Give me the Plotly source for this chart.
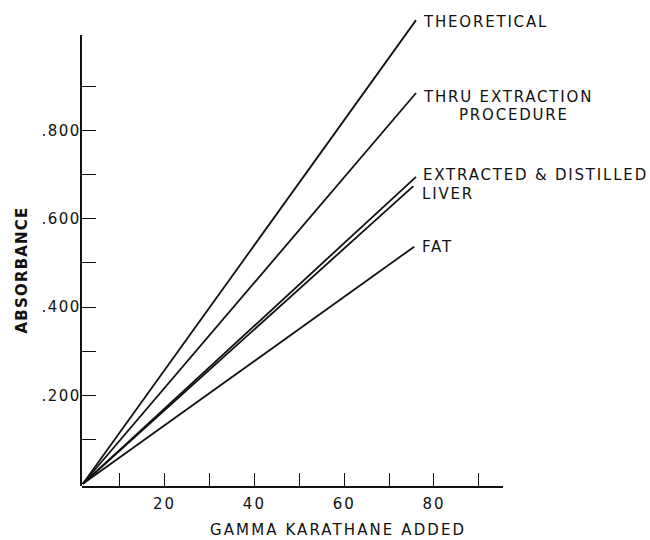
import plotly.graph_objects as go

# ---- data ----
series_names = ["THEORETICAL", "THRU EXTRACTION", "EXTRACTED & DISTILLED", "LIVER", "FAT"]
series_sub = ["", "PROCEDURE", "", "", ""]
x_start = [1.8, 1.8, 1.8, 1.8, 1.8]
y_start = [0.0, 0.0, 0.0, 0.0, 0.0]
x_end = [76.0, 76.0, 76.0, 75.4, 75.6]
y_end = [1.050, 0.885, 0.695, 0.674, 0.537]
label_yshift = [-1, -4, 2, -7, 0]
label_xshift = [5, 5, 5, 7, 6]

x_tickvals = [10, 20, 30, 40, 50, 60, 70, 80, 90]
x_ticktext = ["", "20", "", "40", "", "60", "", "80", ""]
y_tickvals = [0.1, 0.2, 0.3, 0.4, 0.5, 0.6, 0.7, 0.8, 0.9]
y_ticktext = ["", ".200", "", ".400", "", ".600", "", ".800", ""]

x_title = "GAMMA KARATHANE ADDED"
y_title = "ABSORBANCE"

FONT = "DejaVu Sans"
INK = "#111111"


def sp(text, spacing):
    return f"<span style='letter-spacing:{spacing}px'>{text}</span>" if text else ""


fig = go.Figure()

for i, name in enumerate(series_names):
    fig.add_trace(go.Scatter(
        x=[x_start[i], x_end[i]], y=[y_start[i], y_end[i]],
        mode="lines", line=dict(color=INK, width=1.8),
        name=name, showlegend=False, hoverinfo="skip",
        xaxis="x", yaxis="y",
    ))
    fig.add_annotation(
        x=x_end[i], y=y_end[i], xref="x", yref="y",
        text=sp(name, 1.8), showarrow=False, height=13,
        xanchor="left", yanchor="middle",
        xshift=label_xshift[i], yshift=label_yshift[i],
        font=dict(family=FONT, size=15, color=INK),
    )
    if series_sub[i]:
        fig.add_annotation(
            x=x_end[i], y=y_end[i], xref="x", yref="y",
            text=sp(series_sub[i], 1.8), showarrow=False, height=13,
            xanchor="left", yanchor="middle",
            xshift=label_xshift[i] + 36, yshift=label_yshift[i] - 18,
            font=dict(family=FONT, size=15, color=INK),
        )

# empty trace so the visible y axis (y2) gets a subplot
fig.add_trace(go.Scatter(x=[None], y=[None], xaxis="x", yaxis="y2",
                         showlegend=False, hoverinfo="skip"))

fig.update_layout(
    width=650, height=540,
    margin=dict(l=82, r=147, t=10, b=54),
    paper_bgcolor="white", plot_bgcolor="rgba(0,0,0,0)",
    font=dict(family=FONT, size=15, color=INK),
    xaxis=dict(
        range=[1.6, 95.37], showgrid=False, zeroline=False,
        showline=True, linewidth=2, linecolor=INK,
        ticks="inside", ticklen=13, tickwidth=1.2, tickcolor=INK,
        tickvals=x_tickvals, ticktext=[sp(t, 2) for t in x_ticktext],
        ticklabelstandoff=3, anchor="y",
        tickfont=dict(family=FONT, size=15, color=INK),
    ),
    yaxis=dict(
        range=[-0.005, 1.0729], domain=[0, 1], visible=False,
        showgrid=False, zeroline=False,
    ),
    yaxis2=dict(
        range=[-0.005, 1.0163], domain=[0, 0.9475], anchor="x",
        showgrid=False, zeroline=False,
        showline=True, linewidth=2.2, linecolor=INK,
        ticks="inside", ticklen=14, tickwidth=1.4, tickcolor=INK,
        tickvals=y_tickvals, ticktext=[sp(t, 1.5) for t in y_ticktext],
        ticklabelstandoff=-4,
        tickfont=dict(family=FONT, size=15, color=INK),
    ),
)

fig.add_annotation(
    x=-0.1437, y=0.4538, xref="paper", yref="paper",
    text="<b>" + sp(y_title, 1.2) + "</b>", textangle=-90, showarrow=False,
    xanchor="center", yanchor="middle",
    font=dict(family=FONT, size=15, color=INK),
)
fig.add_annotation(
    x=0.6069, y=-0.0924, xref="paper", yref="paper",
    text=sp(x_title, 2.1), showarrow=False,
    xanchor="center", yanchor="middle",
    font=dict(family=FONT, size=15, color=INK),
)

fig.write_html("out.html")
